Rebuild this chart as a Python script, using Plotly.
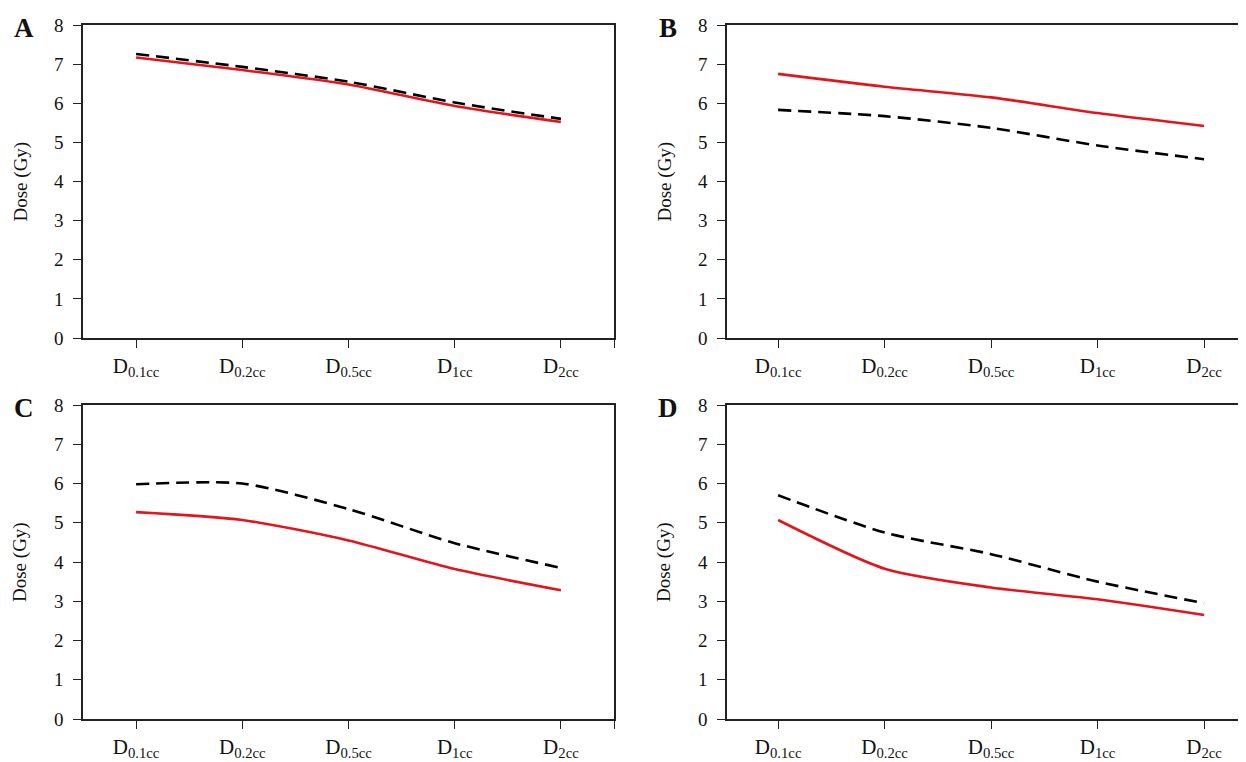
import plotly.graph_objects as go

categories = ["D<sub>0.1cc</sub>", "D<sub>0.2cc</sub>", "D<sub>0.5cc</sub>", "D<sub>1cc</sub>", "D<sub>2cc</sub>"]
panel_labels = ["A", "B", "C", "D"]

red_A = [7.17, 6.85, 6.48, 5.93, 5.52]
black_A = [7.26, 6.93, 6.55, 6.02, 5.60]
red_B = [6.75, 6.42, 6.15, 5.75, 5.42]
black_B = [5.83, 5.67, 5.37, 4.92, 4.57]
red_C = [5.27, 5.07, 4.55, 3.82, 3.28]
black_C = [5.98, 6.00, 5.35, 4.48, 3.85]
red_D = [5.07, 3.83, 3.35, 3.05, 2.65]
black_D = [5.70, 4.75, 4.20, 3.50, 2.95]

y_ticks = [0, 1, 2, 3, 4, 5, 6, 7, 8]

# the page places the figure 8px in from the top-left corner
OFF = 8
W, H = 1246 - OFF, 762 - OFF
FONT = "Liberation Serif"
RED = "#e3141c"
AX = "#222222"

fig = go.Figure()

panels = [
    dict(red=red_A, black=black_A, x0=83, x1=614, y0=25, y1=338, xr=[-0.5, 4.5], right=True),
    dict(red=red_B, black=black_B, x0=727, x1=1246, y0=25, y1=338, xr=[-0.48, 4.394], right=False),
    dict(red=red_C, black=black_C, x0=83, x1=614, y0=405, y1=719, xr=[-0.5, 4.5], right=True),
    dict(red=red_D, black=black_D, x0=727, x1=1246, y0=405, y1=719, xr=[-0.48, 4.394], right=False),
]

def px(v):
    return (v - OFF) / W

def py(v):
    return 1 - (v - OFF) / H

xs = list(range(len(categories)))
annotations = []
for i, p in enumerate(panels):
    k = "" if i == 0 else str(i + 1)
    xa, ya = "x" + k, "y" + k
    fig.add_trace(go.Scatter(x=xs, y=p["black"], mode="lines", xaxis=xa, yaxis=ya,
                             line=dict(color="black", width=2.6, dash="13px,7px", shape="spline", smoothing=0.7),
                             showlegend=False, hoverinfo="skip"))
    fig.add_trace(go.Scatter(x=xs, y=p["red"], mode="lines", xaxis=xa, yaxis=ya,
                             line=dict(color=RED, width=2.6, shape="spline", smoothing=0.7),
                             showlegend=False, hoverinfo="skip"))
    tv = xs + ([4.5] if p["right"] else [])
    tt = categories + ([""] if p["right"] else [])
    xdom = [px(p["x0"]), min(px(p["x1"]), 1.0)]
    ydom = [py(p["y1"]), py(p["y0"])]
    fig.update_layout(**{
        "xaxis" + k: dict(domain=xdom, range=p["xr"], tickvals=tv, ticktext=tt,
                          showline=True, linecolor=AX, linewidth=1.5, mirror=True,
                          ticks="outside", ticklen=8, tickwidth=1.3, tickcolor=AX,
                          showgrid=False, zeroline=False, anchor=ya, automargin=False,
                          ticklabelstandoff=0,
                          tickfont=dict(family=FONT, size=21, color="#111")),
        "yaxis" + k: dict(domain=ydom, range=[0, 8], tickvals=y_ticks,
                          showline=True, linecolor=AX, linewidth=1.5, mirror=p["right"],
                          ticks="outside", ticklen=8, tickwidth=1.3, tickcolor=AX,
                          showgrid=False, zeroline=False, anchor=xa, automargin=False,
                          ticklabelstandoff=6,
                          tickfont=dict(family=FONT, size=19, color="#111")),
    })
    annotations.append(dict(text="Dose (Gy)", x=px(p["x0"] - 63), y=py((p["y0"] + p["y1"]) / 2),
                            xref="paper", yref="paper", showarrow=False, textangle=-90,
                            xanchor="center", yanchor="middle",
                            font=dict(family=FONT, size=19, color="#111")))
    annotations.append(dict(text="<b>" + panel_labels[i] + "</b>", x=px(p["x0"] - 59), y=py(p["y0"] + 3),
                            xref="paper", yref="paper", showarrow=False,
                            xanchor="center", yanchor="middle",
                            font=dict(family=FONT, size=27, color="#111")))

fig.update_layout(template="none", width=W, height=H, margin=dict(l=0, r=0, t=0, b=0, autoexpand=False),
                  paper_bgcolor="white", plot_bgcolor="white", annotations=annotations)

fig.write_html("out.html")
